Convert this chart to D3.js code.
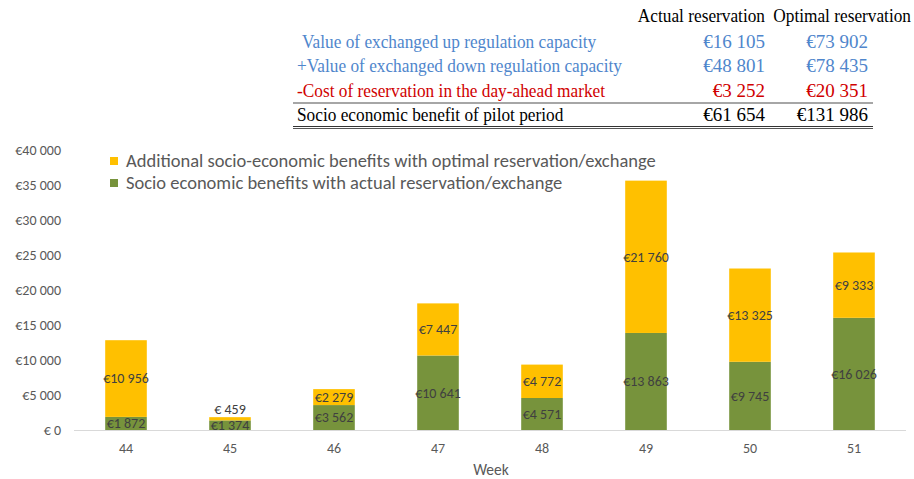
<!DOCTYPE html>
<html>
<head>
<meta charset="utf-8">
<script src="https://cdn.jsdelivr.net/npm/d3@7"></script>
<style>
  body { margin: 0; background: #fff; }
  svg { display: block; }
</style>
</head>
<body>
<div id="graf"></div>
<script>
// Datos
weeks = ['44', '45', '46', '47', '48', '49', '50', '51']
actualBenefit = [1872, 1374, 3562, 10641, 4571, 13863, 9745, 16026]
additionalBenefit = [10956, 459, 2279, 7447, 4772, 21760, 13325, 9333]
seriesNames = [
  'Additional socio-economic benefits with optimal reservation/exchange',
  'Socio economic benefits with actual reservation/exchange'
]
yTicks = [0, 5000, 10000, 15000, 20000, 25000, 30000, 35000, 40000]

tableHeader = ['Actual reservation', 'Optimal reservation']
tableRows = [
  'Value of exchanged up regulation capacity',
  '+Value of exchanged down regulation capacity',
  '-Cost of reservation in the day-ahead market',
  'Socio economic benefit of pilot period'
]
tableActual = ['€16 105', '€48 801', '€3 252', '€61 654']
tableOptimal = ['€73 902', '€78 435', '€20 351', '€131 986']

// Configuración
ancho = 914
alto = 479
rowColors = ['#4f86cc', '#4f86cc', '#d00000', '#000']
colAdd = '#ffc000'
colAct = '#77933c'
sans = 'Calibri, Carlito, "Open Sans", sans-serif'
// la tabla original usa Times un poco estrecha
estrecho = 0.91

svg = d3.select('#graf').append('svg')
  .attr('width', ancho)
  .attr('height', alto)

// formato "€10 956" y "€ 459"
fmt = v => {
  s = d3.format(',')(v).replace(/,/g, ' ')
  return v < 1000 ? '€ ' + s : '€' + s
}

// Tabla
tabla = svg.append('g')
  .style('font-family', '"Liberation Serif", "Times New Roman", serif')
  .style('font-size', '19px')

tabla.append('text').attr('transform', `translate(765, 22) scale(${estrecho}, 1)`)
  .attr('text-anchor', 'end').text(tableHeader[0])
tabla.append('text').attr('transform', `translate(911, 22) scale(${estrecho}, 1)`)
  .attr('text-anchor', 'end').text(tableHeader[1])

rowY = d3.scalePoint().domain(d3.range(tableRows.length)).range([48, 121])
rowX = [302, 297, 297, 297]

tableRows.forEach((r, i) => {
  tabla.append('text').attr('transform', `translate(${rowX[i]}, ${rowY(i)}) scale(${estrecho}, 1)`)
    .attr('fill', rowColors[i]).text(r)
  tabla.append('text').attr('x', 765).attr('y', rowY(i))
    .attr('text-anchor', 'end').attr('fill', rowColors[i]).text(tableActual[i])
  tabla.append('text').attr('x', 868).attr('y', rowY(i))
    .attr('text-anchor', 'end').attr('fill', rowColors[i]).text(tableOptimal[i])
})

tabla.append('line').attr('x1', 293).attr('x2', 873).attr('y1', 103).attr('y2', 103)
  .attr('stroke', '#888').attr('stroke-width', 1.5)
tabla.append('line').attr('x1', 293).attr('x2', 873).attr('y1', 126.5).attr('y2', 126.5)
  .attr('stroke', '#333').attr('stroke-width', 1)
tabla.append('line').attr('x1', 293).attr('x2', 873).attr('y1', 128.5).attr('y2', 128.5)
  .attr('stroke', '#555').attr('stroke-width', 1)

// Escalas
x = d3.scaleBand().domain(weeks).range([74, 906])
  .paddingInner(0.6).paddingOuter(0.3)
y = d3.scaleLinear().domain([0, 40000]).range([430, 150])

g = svg.append('g').style('font-family', sans)

// Eje Y
yAxis = d3.axisLeft(y).tickValues(yTicks).tickSize(0).tickPadding(0).tickFormat(fmt)
g.append('g').attr('transform', 'translate(61, 0)').call(yAxis)
  .call(a => a.select('.domain').remove())
  .selectAll('text').attr('fill', '#595959').style('font-size', '14px')
  .style('font-family', sans)

// Eje X
xAxis = d3.axisBottom(x).tickSize(0).tickPadding(13)
g.append('g').attr('transform', 'translate(0, 430)').call(xAxis)
  .call(a => a.select('.domain').attr('stroke', '#d9d9d9').attr('d', 'M74,0.5H906'))
  .selectAll('text').attr('fill', '#595959').style('font-size', '14px')
  .style('font-family', sans)

g.append('text').attr('x', 491).attr('y', 475).attr('text-anchor', 'middle')
  .attr('fill', '#595959').style('font-size', '15.5px').text('Week')

// Barras apiladas
datos = weeks.map((w, i) => ({ week: w, act: actualBenefit[i], add: additionalBenefit[i] }))

g.selectAll('.act').data(datos).enter().append('rect')
  .attr('class', 'act')
  .attr('x', d => x(d.week)).attr('width', x.bandwidth())
  .attr('y', d => y(d.act)).attr('height', d => y(0) - y(d.act))
  .attr('fill', colAct)

g.selectAll('.add').data(datos).enter().append('rect')
  .attr('class', 'add')
  .attr('x', d => x(d.week)).attr('width', x.bandwidth())
  .attr('y', d => y(d.act + d.add)).attr('height', d => y(d.act) - y(d.act + d.add))
  .attr('fill', colAdd)

// Etiquetas (la de arriba se sube si choca con la de abajo)
g.selectAll('.lblAct').data(datos).enter().append('text')
  .attr('x', d => x(d.week) + x.bandwidth() / 2)
  .attr('y', d => y(d.act / 2)).attr('dy', '0.35em')
  .attr('text-anchor', 'middle').attr('fill', '#404040').style('font-size', '14px')
  .text(d => fmt(d.act))

g.selectAll('.lblAdd').data(datos).enter().append('text')
  .attr('x', d => x(d.week) + x.bandwidth() / 2)
  .attr('y', d => Math.min(y(d.act + d.add / 2), y(d.act / 2) - 16)).attr('dy', '0.35em')
  .attr('text-anchor', 'middle').attr('fill', '#404040').style('font-size', '14px')
  .text(d => fmt(d.add))

// Leyenda
leg = g.append('g')
seriesNames.forEach((n, i) => {
  leg.append('rect').attr('x', 110).attr('y', 157 + i * 22).attr('width', 8).attr('height', 8)
    .attr('fill', i == 0 ? colAdd : colAct)
  leg.append('text').attr('x', 126).attr('y', 161 + i * 22).attr('dy', '0.35em')
    .attr('fill', '#595959').style('font-size', '18.5px')
    .text(n)
})
</script>
</body>
</html>
